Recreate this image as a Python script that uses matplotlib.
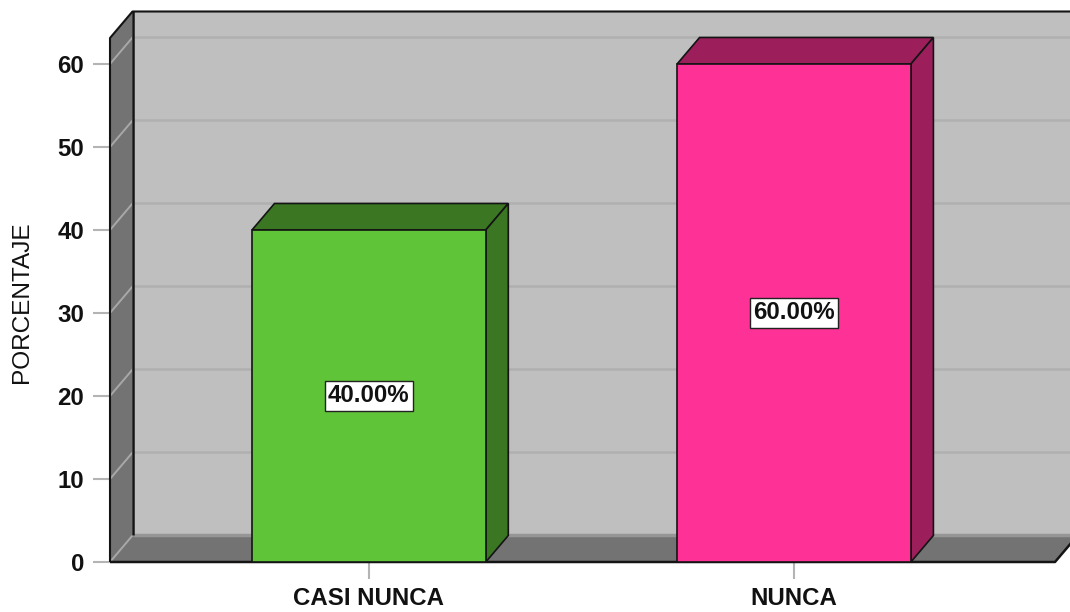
import matplotlib
matplotlib.use('Agg')
import matplotlib.pyplot as plt
from matplotlib.patches import Polygon

categorias = ['CASI NUNCA', 'NUNCA']
porcentajes = [40, 60]
etiquetas = ['40.00%', '60.00%']
colores = ['#5fc437', '#fe3296']
colores_osc = ['#3b7723', '#9c1f5c']
ticks_y = [0, 10, 20, 30, 40, 50, 60]

plt.rcParams['font.family'] = ['Liberation Sans', 'DejaVu Sans']

W, H = 1070, 612
fig = plt.figure(figsize=(W / 100, H / 100), dpi=100)
ax = fig.add_axes([110 / W, (H - 562) / H, 945 / W, 524 / H])

x0, x1 = -0.609, 1.614
y0, y1 = 0, 63.13
ax.set_xlim(x0, x1)
ax.set_ylim(y0, y1)

# profundidad del efecto 3D en unidades de datos
dx = 22.5 / 425
dy = 26.5 / 8.3
ancho = 0.55


def poli(pts, color, z, ec='none', lw=0):
    ax.add_patch(Polygon(pts, closed=True, fc=color, ec=ec, lw=lw, zorder=z,
                         clip_on=False, joinstyle='miter'))


def linea(xs, ys, color, lw, z):
    ax.plot(xs, ys, color=color, lw=lw, zorder=z, clip_on=False,
            solid_capstyle='butt')


# pared del fondo, pared izquierda y piso
poli([(x0 + dx, dy), (x1 + dx, dy), (x1 + dx, y1 + dy), (x0 + dx, y1 + dy)], '#bfbfbf', 1)
poli([(x0, 0), (x0 + dx, dy), (x0 + dx, y1 + dy), (x0, y1)], '#737373', 1)
poli([(x0, 0), (x1, 0), (x1 + dx, dy), (x0 + dx, dy)], '#737373', 1)

# rejilla
for t in ticks_y:
    if t > 0:
        linea([x0 + dx, x1 + dx], [t + dy, t + dy], '#b0b0b0', 1.8, 2)
    linea([x0, x0 + dx], [t, t + dy], '#a8a8a8', 1.4, 2)
linea([x0 + dx, x1 + dx], [dy, dy], '#969696', 2.5, 2)

# bordes negros
linea([x0, x0, x0 + dx, x1 + dx], [0, y1, y1 + dy, y1 + dy], '#141414', 1.5, 3)
linea([x0 + dx, x0 + dx], [dy, y1 + dy], '#141414', 1.8, 3)
linea([x0, x1, x1 + dx], [0, 0, dy], '#141414', 1.8, 3)

# barras
for i, v in enumerate(porcentajes):
    a, b = i - ancho / 2, i + ancho / 2
    ax.bar(i, v, width=ancho, color=colores[i], edgecolor='#141414', lw=1.2, zorder=5)
    poli([(a, v), (b, v), (b + dx, v + dy), (a + dx, v + dy)], colores_osc[i], 4, '#141414', 1.2)
    poli([(b, 0), (b + dx, dy), (b + dx, v + dy), (b, v)], colores_osc[i], 4, '#141414', 1.2)
    ax.text(i, v / 2, etiquetas[i], ha='center', va='center', fontsize=17.3,
            fontweight='bold', color='#111111', zorder=6,
            bbox=dict(boxstyle='square,pad=0.13', fc='white', ec='#222222', lw=1))

for s in ax.spines.values():
    s.set_visible(False)
ax.set_xticks(range(len(categorias)), categorias)
ax.set_yticks(ticks_y)
ax.tick_params(axis='y', length=12.5, width=1.5, color='#b4b4b4', pad=6, labelsize=17.3)
ax.tick_params(axis='x', length=12, width=1.5, color='#b4b4b4', pad=6, labelsize=17.3)
for lab in ax.get_xticklabels() + ax.get_yticklabels():
    lab.set_fontweight('bold')
    lab.set_color('#111111')
fig.text(22 / W, (H - 302) / H, 'PORCENTAJE', rotation=90, ha='center', va='center',
         fontsize=17.6, color='#111111')

fig.savefig('out.png', dpi=100)
